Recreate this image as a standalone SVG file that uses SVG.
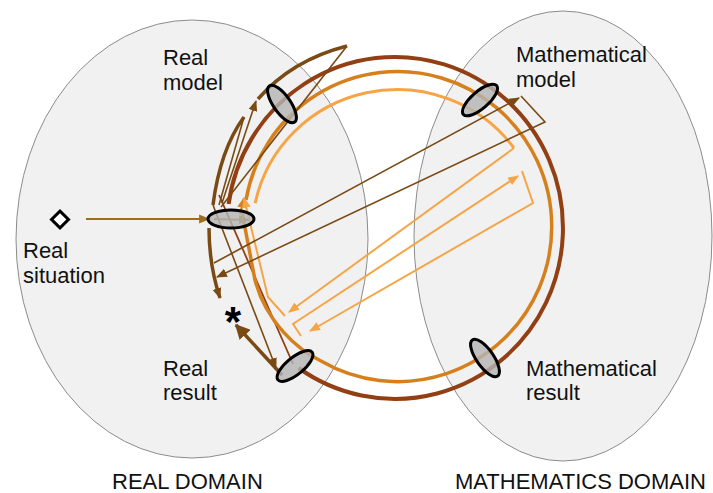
<svg xmlns="http://www.w3.org/2000/svg" width="713" height="493" viewBox="0 0 713 493">
<style>
.dom{fill:#f1f1f1;stroke:#8c8c8c;stroke-width:1}
.bead{fill:#b4b4b4;fill-opacity:0.8;stroke:#000;stroke-width:3}
.lbl{font-family:"Liberation Sans",Arial,sans-serif;font-size:22px;fill:#111}
.c{fill:none;stroke-linejoin:miter;stroke-linecap:butt}
.dr{stroke:#923f13}
.mo{stroke:#d5801d}
.lo{stroke:#f6a546}
.sp{stroke:#7a4a15}
.gd{stroke:#9c6e1e}
</style>
<defs>
<marker id="aSp" viewBox="0 0 10 10" refX="9" refY="5" markerWidth="11" markerHeight="11" markerUnits="userSpaceOnUse" orient="auto"><path d="M0,1 L10,5 L0,9 z" fill="#7a4a15"/></marker>
<marker id="aLo" viewBox="0 0 10 10" refX="9" refY="5" markerWidth="11" markerHeight="11" markerUnits="userSpaceOnUse" orient="auto"><path d="M0,1 L10,5 L0,9 z" fill="#f6a546"/></marker>
<marker id="aMo" viewBox="0 0 10 10" refX="9" refY="5" markerWidth="11" markerHeight="11" markerUnits="userSpaceOnUse" orient="auto"><path d="M0,1 L10,5 L0,9 z" fill="#d5801d"/></marker>
<marker id="aGd" viewBox="0 0 10 10" refX="9" refY="5" markerWidth="11" markerHeight="11" markerUnits="userSpaceOnUse" orient="auto"><path d="M0,1 L10,5 L0,9 z" fill="#9c6e1e"/></marker>
<marker id="aSpBig" viewBox="0 0 10 10" refX="9" refY="5" markerWidth="15" markerHeight="15" markerUnits="userSpaceOnUse" orient="auto"><path d="M0,0 L10,5 L0,10 z" fill="#7a4a15"/></marker>
</defs>
<rect width="713" height="493" fill="#fff"/>
<g id="domain-real">
<ellipse class="dom" cx="192" cy="239" rx="176" ry="219"/>
<text class="lbl" x="112" y="489">REAL DOMAIN</text>
</g>
<g id="domain-math">
<ellipse class="dom" cx="563" cy="236" rx="149" ry="225"/>
<text class="lbl" x="455" y="489">MATHEMATICS DOMAIN</text>
</g>
<g id="connectors">
<path class="c dr" stroke-width="4" d="M228.6,204 A168,171 0 1,1 298.6,368"/>
<path class="c dr" stroke-width="1.8" d="M219,195 L293,364"/>
<path class="c mo" stroke-width="3.5" d="M246,200 A154,155 0 1,1 321,361 C298,350 266,322 255,280 L242,212"/>
<path class="c mo" stroke-width="2" d="M240,214 L244,198" marker-end="url(#aMo)"/>
<path class="c lo" stroke-width="3" d="M255.2,203.2 A145,143 0 0,1 514,148"/>
<path class="c lo" stroke-width="2" d="M514,148 L289,312" marker-end="url(#aLo)"/>
<path class="c lo" stroke-width="2" d="M285,316 L268,297 L244,198" marker-end="url(#aLo)"/>
<path class="c lo" stroke-width="2" d="M301,336 L293,324 L518,176" marker-end="url(#aLo)"/>
<path class="c lo" stroke-width="2" d="M522,171 L533,203 L310,331" marker-end="url(#aLo)"/>
<path class="c sp" stroke-width="3.5" d="M258,99 Q292,60 347,46"/>
<path class="c sp" stroke-width="1.6" d="M347,46 L221,207"/>
<path class="c sp" stroke-width="1.6" d="M222,203 L256,101" marker-end="url(#aSp)"/>
<path class="c sp" stroke-width="3.5" d="M244,117 Q220,150 213,205"/>
<path class="c sp" stroke-width="1.6" d="M244,117 L219,205"/>
<path class="c sp" stroke-width="3.5" d="M209,228 Q209,265 220,298" marker-end="url(#aSp)"/>
<path class="c sp" stroke-width="1.6" d="M214,263 L519,98" marker-end="url(#aSp)"/>
<path class="c sp" stroke-width="1.6" d="M521,96 L545,122 L217,277" marker-end="url(#aSp)"/>
<path class="c sp" stroke-width="1.6" d="M213,205 L276,368" marker-end="url(#aSp)"/>
<path class="c sp" stroke-width="3.5" d="M282,375 L236,325" marker-end="url(#aSpBig)"/>
<path class="c gd" stroke-width="2.2" d="M86,219 L209,219" marker-end="url(#aGd)"/>
<path class="c gd" stroke-width="2.2" d="M214,219 L249,220" marker-end="url(#aGd)"/>
</g>
<g id="node-real-situation">
<rect x="54" y="213.5" width="12" height="12" transform="rotate(45 60 219.5)" fill="#fff" stroke="#000" stroke-width="3"/>
<text class="lbl" x="23" y="258">Real</text>
<text class="lbl" x="23" y="283">situation</text>
<ellipse class="bead" cx="231" cy="219" rx="23" ry="9"/>
</g>
<g id="node-real-model">
<text class="lbl" x="163" y="65">Real</text>
<text class="lbl" x="163" y="90">model</text>
<ellipse class="bead" cx="282" cy="104" rx="22" ry="8.5" transform="rotate(55 282 104)"/>
</g>
<g id="node-math-model">
<text class="lbl" x="516" y="62">Mathematical</text>
<text class="lbl" x="516" y="87">model</text>
<ellipse class="bead" cx="480" cy="100" rx="22" ry="8.5" transform="rotate(-41 480 100)"/>
</g>
<g id="node-math-result">
<text class="lbl" x="526" y="376">Mathematical</text>
<text class="lbl" x="526" y="400">result</text>
<ellipse class="bead" cx="485" cy="358" rx="22" ry="8.5" transform="rotate(55 485 358)"/>
</g>
<g id="node-real-result">
<text class="lbl" x="163" y="376">Real</text>
<text class="lbl" x="163" y="400">result</text>
<ellipse class="bead" cx="295" cy="366" rx="22" ry="8.5" transform="rotate(-39 295 366)"/>
</g>
<g id="node-star">
<text x="233" y="336" text-anchor="middle" font-family="Liberation Sans,Arial,sans-serif" font-weight="bold" font-size="42" fill="#000">*</text>
</g>
</svg>
